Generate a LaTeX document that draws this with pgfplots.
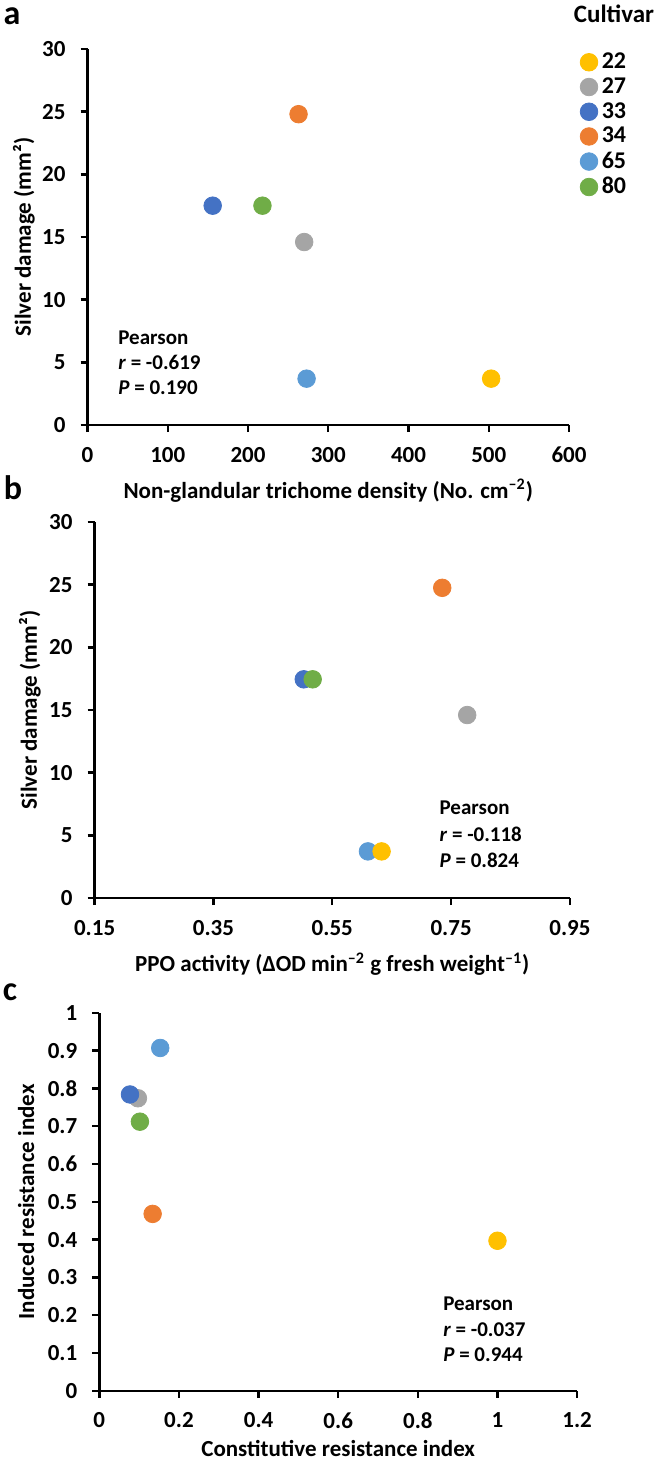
\documentclass[border=0pt]{standalone}
\usepackage{fontspec}
\setmainfont{Carlito}
\usepackage{pgfplots}
\pgfplotsset{compat=1.18}

\definecolor{c22}{HTML}{FFC000}
\definecolor{c27}{HTML}{A5A5A5}
\definecolor{c33}{HTML}{4472C4}
\definecolor{c34}{HTML}{ED7D31}
\definecolor{c65}{HTML}{5B9BD5}
\definecolor{c80}{HTML}{70AD47}

\pgfplotsset{
  panel/.style={
    scale only axis,
    axis lines*=left,
    axis line style={line width=1.2pt, -},
    every tick/.style={black, line width=1.2pt},
    tick align=outside,
    major tick length=3.5pt,
    tick label style={font=\fontsize{11.5}{13}\selectfont\bfseries},
    xticklabel style={yshift=-4pt},
    yticklabel style={xshift=-4pt},
    label style={font=\fontsize{11.5}{13}\selectfont\bfseries},
    /pgf/number format/assume math mode=true,
    clip=false,
  },
  dot/.style={only marks, mark=*, mark size=4.4pt, color=#1},
}
\tikzset{stat/.style={anchor=west, inner xsep=0pt, font=\fontsize{10.5}{12}\selectfont\bfseries}}

\begin{document}
\begin{tikzpicture}
\path[use as bounding box] (0,0) rectangle (328.5pt,-732pt);

% panel a
\begin{axis}[panel,
  at={(43.75pt,-212.5pt)}, anchor=south west,
  width=240.75pt, height=188pt,
  xmin=0, xmax=600, ymin=0, ymax=30,
  xtick={0,100,...,600}, ytick={0,5,...,30},
  xlabel={Non-glandular trichome density (No. cm\textsuperscript{–2})},
  ylabel={Silver damage (mm²)},
  xlabel style={at={(axis description cs:0.5,-0.175)}, anchor=center},
  ylabel style={at={(axis description cs:-0.132,0.5)}, anchor=center},
  legend style={at={(1.01,1.012)}, anchor=north west, draw=none, fill=none,
    font=\fontsize{12}{14}\selectfont\bfseries, row sep=-1pt},
  legend cell align=left,
]
\addplot[dot=c22] coordinates {(503,3.7)};
\addlegendentry{22}
\addplot[dot=c27] coordinates {(270,14.6)};
\addlegendentry{27}
\addplot[dot=c33] coordinates {(156,17.5)};
\addlegendentry{33}
\addplot[dot=c34] coordinates {(263,24.8)};
\addlegendentry{34}
\addplot[dot=c65] coordinates {(273,3.7)};
\addlegendentry{65}
\addplot[dot=c80] coordinates {(218,17.5)};
\addlegendentry{80}
\node[stat] at (axis cs:38,7) {Pearson};
\node[stat] at (axis cs:38,5) {\textit{r} = -0.619};
\node[stat] at (axis cs:38,3) {\textit{P} = 0.190};
\end{axis}

% panel b
\begin{axis}[panel,
  at={(47.3pt,-449pt)}, anchor=south west,
  width=237.7pt, height=188pt,
  xmin=0.15, xmax=0.95, ymin=0, ymax=30,
  xtick={0.15,0.35,0.55,0.75,0.95},
  xticklabels={0.15,0.35,0.55,0.75,0.95},
  ytick={0,5,...,30},
  xlabel={PPO activity (ΔOD min\textsuperscript{–2} g fresh weight\textsuperscript{–1})},
  ylabel={Silver damage (mm²)},
  xlabel style={at={(axis description cs:0.5,-0.176)}, anchor=center},
  ylabel style={at={(axis description cs:-0.136,0.5)}, anchor=center},
]
\addplot[dot=c27] coordinates {(0.777,14.6)};
\addplot[dot=c33] coordinates {(0.502,17.45)};
\addplot[dot=c34] coordinates {(0.735,24.75)};
\addplot[dot=c65] coordinates {(0.610,3.72)};
\addplot[dot=c22] coordinates {(0.633,3.72)};
\addplot[dot=c80] coordinates {(0.517,17.45)};
\node[stat] at (axis cs:0.73,7.2) {Pearson};
\node[stat] at (axis cs:0.73,5.1) {\textit{r} = -0.118};
\node[stat] at (axis cs:0.73,3.0) {\textit{P} = 0.824};
\end{axis}

% panel c
\begin{axis}[panel,
  at={(49.65pt,-695.4pt)}, anchor=south west,
  width=238.9pt, height=189pt,
  xmin=0, xmax=1.2, ymin=0, ymax=1,
  xtick={0,0.2,0.4,0.6,0.8,1,1.2},
  xticklabels={0,0.2,0.4,0.6,0.8,1,1.2},
  ytick={0,0.1,0.2,0.3,0.4,0.5,0.6,0.7,0.8,0.9,1},
  yticklabels={0,0.1,0.2,0.3,0.4,0.5,0.6,0.7,0.8,0.9,1},
  xlabel={Constitutive resistance index},
  ylabel={Induced resistance index},
  xlabel style={at={(axis description cs:0.5,-0.153)}, anchor=center},
  ylabel style={at={(axis description cs:-0.153,0.5)}, anchor=center},
]
\addplot[dot=c22] coordinates {(1.0,0.397)};
\addplot[dot=c27] coordinates {(0.097,0.774)};
\addplot[dot=c33] coordinates {(0.077,0.784)};
\addplot[dot=c34] coordinates {(0.134,0.468)};
\addplot[dot=c65] coordinates {(0.153,0.907)};
\addplot[dot=c80] coordinates {(0.102,0.712)};
\node[stat] at (axis cs:0.863,0.229) {Pearson};
\node[stat] at (axis cs:0.863,0.162) {\textit{r} = -0.037};
\node[stat] at (axis cs:0.863,0.095) {\textit{P} = 0.944};
\end{axis}

\node[font=\fontsize{12.5}{14}\selectfont\bfseries] at (307pt,-6.7pt) {Cultivar};
\node[font=\fontsize{17}{19}\selectfont\bfseries] at (6pt,-8pt) {a};
\node[font=\fontsize{17}{19}\selectfont\bfseries] at (6.5pt,-244pt) {b};
\node[font=\fontsize{17}{19}\selectfont\bfseries] at (5pt,-496pt) {c};
\end{tikzpicture}
\end{document}
